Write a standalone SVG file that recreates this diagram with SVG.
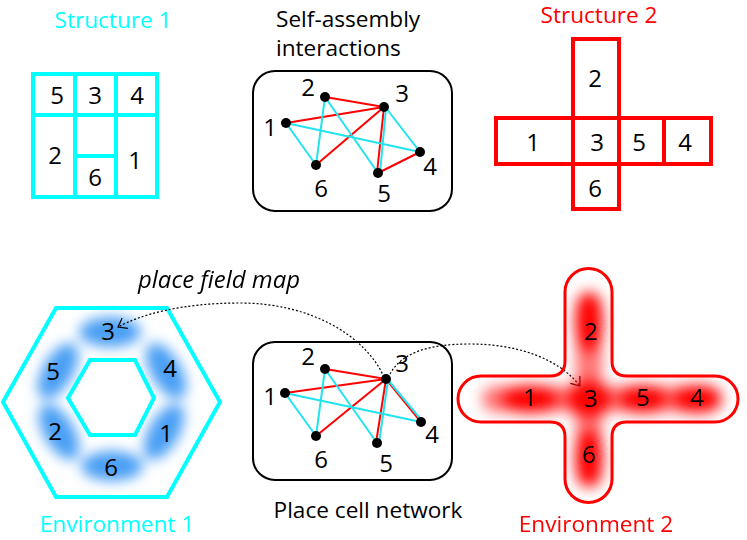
<svg xmlns="http://www.w3.org/2000/svg" width="747" height="540" viewBox="0 0 747 540">
<style>
text{font-family:"Open Sans","Noto Sans",sans-serif;fill:#000}
.t{font-size:22.6px}
.d{font-size:24px;text-anchor:middle}
.cy{fill:#00ffff}
.rd{fill:#ff0000}
.s1{fill:none;stroke:#00ffff;stroke-width:4}
.s2{fill:none;stroke:#ff0000;stroke-width:4}
.box{fill:none;stroke:#000;stroke-width:2}
.er{stroke:#ff0000;stroke-width:2;fill:none}
.ec{stroke:#22e3ee;stroke-width:2;fill:none}
.dot{fill:#000}
.dash{fill:none;stroke:#000;stroke-width:1.2;stroke-dasharray:2 2}
</style>
<defs>
<marker id="chev" markerUnits="userSpaceOnUse" markerWidth="14" markerHeight="14" refX="0" refY="0" viewBox="-10 -7 14 14" orient="auto">
<path d="M-8,-6 L0,0 L-8,6" fill="none" stroke="#000" stroke-width="1.2"/>
</marker>
<filter id="blurB" x="-60%" y="-60%" width="220%" height="220%"><feGaussianBlur stdDeviation="6.5"/></filter>
<filter id="blurR" x="-60%" y="-60%" width="220%" height="220%"><feGaussianBlur stdDeviation="7"/></filter>
</defs>
<rect width="747" height="540" fill="#fff"/>

<g id="structure1">
<text class="t cy" x="113" y="28" text-anchor="middle">Structure 1</text>
<rect class="s1" x="33" y="74" width="124" height="123"/>
<line class="s1" x1="75" y1="74" x2="75" y2="197"/>
<line class="s1" x1="116" y1="74" x2="116" y2="197"/>
<line class="s1" x1="33" y1="115" x2="157" y2="115"/>
<line class="s1" x1="75" y1="156" x2="116" y2="156"/>
<text class="d" x="57" y="104">5</text>
<text class="d" x="95" y="104">3</text>
<text class="d" x="137" y="104">4</text>
<text class="d" x="55" y="164">2</text>
<text class="d" x="95" y="186">6</text>
<text class="d" x="135" y="169">1</text>
</g>

<g id="self-assembly">
<text class="t" x="276" y="27">Self-assembly</text>
<text class="t" x="276" y="56">interactions</text>
<rect class="box" x="253" y="71" width="199" height="140" rx="22"/>
</g>

<g id="connectors-top">
<line class="er" x1="325" y1="97" x2="384" y2="107"/>
<line class="er" x1="286" y1="123" x2="384" y2="107"/>
<line class="er" x1="316" y1="165" x2="384" y2="107"/>
<line class="er" x1="384" y1="107" x2="377" y2="173"/>
<line class="er" x1="378" y1="173" x2="420" y2="152" stroke-width="1.3"/>
<line class="ec" x1="325" y1="97" x2="316" y2="165"/>
<line class="ec" x1="325" y1="97" x2="378" y2="173"/>
<line class="ec" x1="286" y1="123" x2="316" y2="165"/>
<line class="ec" x1="286" y1="123" x2="420" y2="152"/>
<line class="ec" x1="386" y1="108" x2="420" y2="152"/>
<line class="ec" x1="386" y1="108" x2="380" y2="173"/>
</g>
<g id="nodes-top">
<circle class="dot" cx="286" cy="123" r="5"/>
<circle class="dot" cx="325" cy="97" r="5"/>
<circle class="dot" cx="384" cy="107" r="5"/>
<circle class="dot" cx="420" cy="152" r="5"/>
<circle class="dot" cx="378" cy="173" r="5"/>
<circle class="dot" cx="316" cy="165" r="5"/>
<text class="d" x="270" y="136">1</text>
<text class="d" x="308" y="96">2</text>
<text class="d" x="402" y="102">3</text>
<text class="d" x="430" y="175">4</text>
<text class="d" x="384" y="202">5</text>
<text class="d" x="321" y="197">6</text>
</g>

<g id="structure2">
<text class="t rd" x="599" y="23" text-anchor="middle">Structure 2</text>
<rect class="s2" x="573" y="39" width="46" height="79"/>
<rect class="s2" x="496" y="118" width="215" height="46"/>
<line class="s2" x1="573" y1="118" x2="573" y2="164"/>
<line class="s2" x1="619" y1="118" x2="619" y2="164"/>
<line class="s2" x1="664" y1="118" x2="664" y2="164"/>
<rect class="s2" x="573" y="164" width="46" height="45"/>
<text class="d" x="595" y="87">2</text>
<text class="d" x="533" y="151">1</text>
<text class="d" x="597" y="151">3</text>
<text class="d" x="639" y="151">5</text>
<text class="d" x="685" y="151">4</text>
<text class="d" x="595" y="197">6</text>
</g>

<g id="environment1">
<g fill="#4a9ff5" filter="url(#blurB)">
<ellipse cx="110" cy="332" rx="31" ry="15"/>
<ellipse cx="58" cy="371" rx="31" ry="15" transform="rotate(-60 58 371)"/>
<ellipse cx="166" cy="371" rx="31" ry="15" transform="rotate(60 166 371)"/>
<ellipse cx="59" cy="432" rx="31" ry="15" transform="rotate(60 59 432)"/>
<ellipse cx="164" cy="432" rx="31" ry="15" transform="rotate(-60 164 432)"/>
<ellipse cx="112" cy="466" rx="31" ry="15"/>
</g>
<polygon class="s1" stroke-width="6" points="56,308 167,308 220,402 167,497 56,497 3,402"/>
<polygon class="s1" stroke-width="5" points="90,360 135,360 154,398 135,435 90,435 68,398"/>
<text class="d" x="108" y="340">3</text>
<text class="d" x="53" y="380">5</text>
<text class="d" x="170" y="377">4</text>
<text class="d" x="55" y="440">2</text>
<text class="d" x="166" y="442">1</text>
<text class="d" x="111" y="476">6</text>
<text class="t cy" x="117" y="532" text-anchor="middle">Environment 1</text>
</g>

<g id="place-cell-network">
<rect class="box" x="253" y="342" width="199" height="138" rx="22"/>
<text class="t" x="368" y="518" text-anchor="middle">Place cell network</text>
</g>

<g id="connectors-bottom">
<line class="er" x1="325" y1="369" x2="386" y2="379"/>
<line class="er" x1="285" y1="393" x2="386" y2="379"/>
<line class="er" x1="316" y1="436" x2="386" y2="379"/>
<line class="er" x1="386" y1="379" x2="376" y2="443"/>
<line class="er" x1="386" y1="379" x2="421" y2="422"/>
<line class="ec" x1="325" y1="369" x2="316" y2="436"/>
<line class="ec" x1="325" y1="369" x2="377" y2="443"/>
<line class="ec" x1="285" y1="393" x2="316" y2="436"/>
<line class="ec" x1="285" y1="393" x2="421" y2="422"/>
<line class="ec" x1="388" y1="380" x2="423" y2="422"/>
<line class="ec" x1="388" y1="380" x2="379" y2="443"/>
<path class="dash" d="M384,377 C365,335 310,303 240,303 C180,303 140,315 118,327" marker-end="url(#chev)"/>
<path class="dash" d="M390,374 C402,352 430,344 470,344 C520,344 560,360 580,386" marker-end="url(#chev)"/>
</g>
<g id="nodes-bottom">
<circle class="dot" cx="285" cy="393" r="5"/>
<circle class="dot" cx="325" cy="369" r="5"/>
<circle class="dot" cx="386" cy="379" r="5"/>
<circle class="dot" cx="421" cy="422" r="5"/>
<circle class="dot" cx="377" cy="443" r="5"/>
<circle class="dot" cx="316" cy="436" r="5"/>
<text class="d" x="270" y="405">1</text>
<text class="d" x="308" y="365">2</text>
<text class="d" x="402" y="372">3</text>
<text class="d" x="432" y="443">4</text>
<text class="d" x="386" y="472">5</text>
<text class="d" x="321" y="468">6</text>
</g>

<g id="environment2">
<g fill="#ff0000" filter="url(#blurR)">
<rect x="576" y="292" width="26" height="196" rx="13" opacity="0.55"/>
<rect x="482" y="386" width="240" height="26" rx="13" opacity="0.55"/>
<ellipse cx="530" cy="399" rx="28" ry="14"/>
<ellipse cx="589" cy="399" rx="22" ry="18"/>
<ellipse cx="643" cy="399" rx="24" ry="14"/>
<ellipse cx="697" cy="399" rx="24" ry="14"/>
<ellipse cx="589" cy="322" rx="14" ry="30"/>
<ellipse cx="589" cy="458" rx="14" ry="28"/>
</g>
<path fill="none" stroke="#ff0000" stroke-width="3" d="M565,292 A23.5,23.5 0 0 1 612,292 L612,361 Q612,376 627,376 L715,376 A23,23 0 0 1 715,422 L627,422 Q612,422 612,437 L612,479 A23.5,23.5 0 0 1 565,479 L565,437 Q565,422 550,422 L481,422 A23,23 0 0 1 481,376 L550,376 Q565,376 565,361 Z"/>
<text class="d" x="591" y="340">2</text>
<text class="d" x="530" y="406">1</text>
<text class="d" x="591" y="407">3</text>
<text class="d" x="643" y="406">5</text>
<text class="d" x="697" y="406">4</text>
<text class="d" x="589" y="463">6</text>
<text class="t rd" x="596" y="532" text-anchor="middle">Environment 2</text>
</g>

<text x="138" y="288" font-size="23" font-style="italic" textLength="162" lengthAdjust="spacingAndGlyphs">place field map</text>
</svg>
